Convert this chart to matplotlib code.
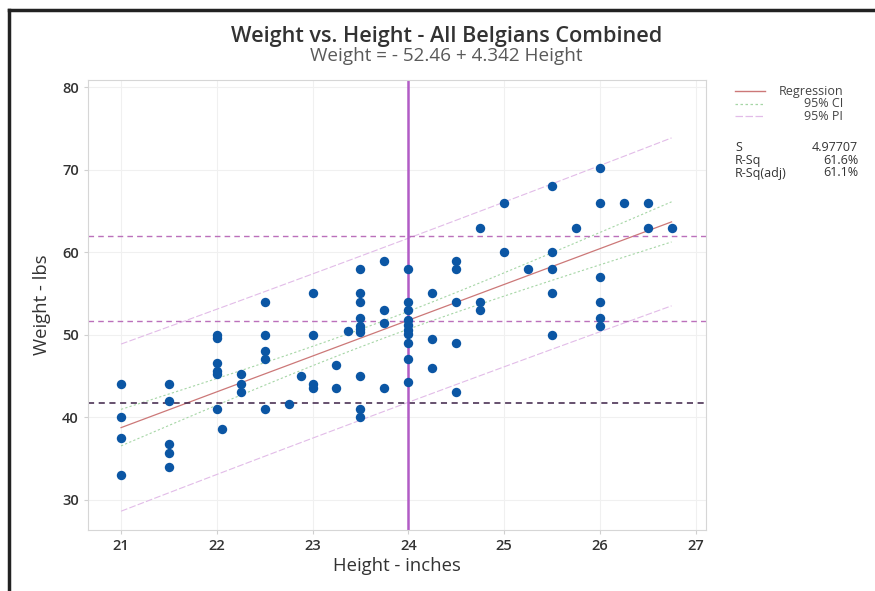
import numpy as np
import matplotlib
matplotlib.use("Agg")
import matplotlib.pyplot as plt
from matplotlib.lines import Line2D

plt.rcParams["font.family"] = ["Open Sans", "DejaVu Sans"]

# data (height in inches, weight in lbs)
heights = [
    21, 21, 21, 21,
    21.5, 21.5, 21.5, 21.5, 21.5,
    22, 22, 22, 22, 22, 22, 22.05,
    22.25, 22.25, 22.25,
    22.5, 22.5, 22.5, 22.5, 22.5,
    22.75, 22.875,
    23, 23, 23, 23,
    23.25, 23.25, 23.375,
    23.5, 23.5, 23.5, 23.5, 23.5, 23.5, 23.5, 23.5, 23.5, 23.5,
    23.75, 23.75, 23.75, 23.75,
    24, 24, 24, 24, 24, 24, 24, 24, 24, 24,
    24.25, 24.25, 24.25,
    24.5, 24.5, 24.5, 24.5, 24.5,
    24.75, 24.75, 24.75,
    25, 25, 25.25,
    25.5, 25.5, 25.5, 25.5, 25.5,
    25.75,
    26, 26, 26, 26, 26, 26,
    26.25, 26.5, 26.5, 26.75,
]
weights = [
    44, 40, 37.5, 33,
    44, 42, 36.7, 35.6, 34,
    50, 49.6, 46.6, 45.6, 45.2, 41, 38.6,
    45.2, 44, 43,
    54, 50, 48, 47, 41,
    41.6, 45,
    55, 50, 44, 43.5,
    46.3, 43.5, 50.4,
    58, 55, 54, 52, 51, 50.7, 50.3, 45, 41, 40,
    59, 53, 51.4, 43.5,
    58, 54, 53, 51.8, 51.2, 50.6, 50.1, 49, 47, 44.2,
    55, 49.5, 46,
    59, 58, 54, 49, 43,
    63, 54, 53,
    66, 60, 58,
    68, 60, 58, 55, 50,
    63,
    70.2, 66, 57, 54, 52, 51,
    66, 66, 63, 63,
]

# fit reported on the chart
b0, b1 = -52.46, 4.342
s_err = 4.97707
r_sq = "61.6%"
r_sq_adj = "61.1%"
t_crit = 1.988

# reference lines
h_ref_upper = [62.0, 51.6]
h_ref_lower = 41.7
v_ref = 24

x = np.array(heights)
n = len(x)
xbar = x.mean()
sxx = ((x - xbar) ** 2).sum()
xs = np.linspace(x.min(), x.max(), 100)
fit = b0 + b1 * xs
ci = t_crit * s_err * np.sqrt(1 / n + (xs - xbar) ** 2 / sxx)
pi = t_crit * s_err * np.sqrt(1 + 1 / n + (xs - xbar) ** 2 / sxx)

reg_color = "#cc7878"
ci_color = "#a6d6a6"
pi_color = "#e2bce8"

fig = plt.figure(figsize=(8.75, 5.91), dpi=100)
ax = fig.add_axes([0.1006, 0.1032, 0.7063, 0.7614])

ax.grid(True, color="#f0f0f0", linewidth=0.8)
ax.set_axisbelow(True)

ax.plot(xs, fit + pi, color=pi_color, linewidth=0.8, dashes=(6, 2))
ax.plot(xs, fit - pi, color=pi_color, linewidth=0.8, dashes=(6, 2))
ax.plot(xs, fit + ci, color=ci_color, linewidth=0.8, dashes=(2, 2))
ax.plot(xs, fit - ci, color=ci_color, linewidth=0.8, dashes=(2, 2))
ax.plot(xs, fit, color=reg_color, linewidth=0.9)

for yv in h_ref_upper:
    ax.axhline(yv, color="#bb70bb", linewidth=1.0, dashes=(4, 3))
ax.axhline(h_ref_lower, color="#3c2046", linewidth=1.1, dashes=(4, 3))
ax.axvline(v_ref, color="#b25cc6", linewidth=1.8)

ax.scatter(heights, weights, s=46, color="#0b56a4", zorder=5, linewidths=0)

ax.set_xlim(20.655, 27.11)
ax.set_ylim(26.3, 80.9)
ax.set_xticks([21, 22, 23, 24, 25, 26, 27])
ax.set_yticks([30, 40, 50, 60, 70, 80])
for sp in ax.spines.values():
    sp.set_color("#d6d6d6")
ax.tick_params(colors="#d0d0d0", labelcolor="#333333", labelsize=10.5, length=3)
for lab in ax.get_xticklabels() + ax.get_yticklabels():
    lab.set_fontweight("semibold")

ax.set_xlabel("Height - inches", fontsize=13.3, color="#333333", labelpad=3)
ax.set_ylabel("Weight - lbs", fontsize=13.3, color="#333333", labelpad=8)

fig.text(0.51, 0.938, "Weight vs. Height - All Belgians Combined",
         ha="center", va="center", fontsize=15.6, fontweight="semibold", color="#333333")
fig.text(0.51, 0.905, f"Weight = - {abs(b0):.2f} + {b1:.3f} Height",
         ha="center", va="center", fontsize=13.6, color="#5a5a5a")

# legend and stats to the right of the plot
leg_rows = [
    ("Regression", dict(color=reg_color, linewidth=1.0)),
    ("95% CI", dict(color=ci_color, linewidth=0.9, dashes=(2, 2))),
    ("95% PI", dict(color=pi_color, linewidth=0.9, dashes=(6, 2))),
]
for i, (name, style) in enumerate(leg_rows):
    yy = 1 - (91 + i * 12.5) / 591
    fig.add_artist(Line2D([735 / 875, 765 / 875], [yy, yy], **style))
    fig.text(843 / 875, yy, name, ha="right", va="center", fontsize=9, color="#444444")

stats = [("S", f"{s_err:.5f}"), ("R-Sq", r_sq), ("R-Sq(adj)", r_sq_adj)]
for i, (name, val) in enumerate(stats):
    yy = 1 - (148 + i * 12.5) / 591
    fig.text(735 / 875, yy, name, ha="left", va="center", fontsize=9, color="#333333")
    fig.text(858 / 875, yy, val, ha="right", va="center", fontsize=9, color="#333333")

# page border (left and top only)
fig.add_artist(Line2D([9 / 875, 9 / 875], [0, 1 - 10 / 591], color="#222222", linewidth=2.5))
fig.add_artist(Line2D([9 / 875, 1], [1 - 10 / 591, 1 - 10 / 591], color="#222222", linewidth=2.5))

fig.savefig("out.png", dpi=100)
